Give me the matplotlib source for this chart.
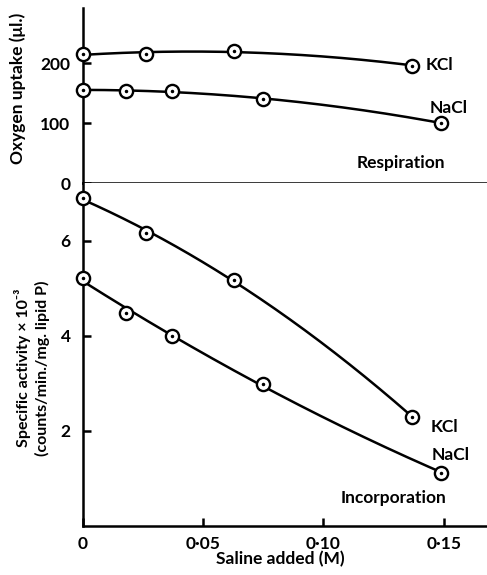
import numpy as np
import matplotlib

matplotlib.use("Agg")

import matplotlib.pyplot as plt

plt.rcParams["font.family"] = ["Lato", "DejaVu Sans"]

# respiration (oxygen uptake, ul.)
resp_kcl_x = [0.0, 0.026, 0.063, 0.137]
resp_kcl_y = [215, 216, 220, 196]
resp_nacl_x = [0.0, 0.018, 0.037, 0.075, 0.149]
resp_nacl_y = [156, 153, 153, 141, 100]

# incorporation (specific activity x 10^-3)
inc_kcl_x = [0.0, 0.026, 0.063, 0.137]
inc_kcl_y = [6.9, 6.17, 5.18, 2.29]
inc_nacl_x = [0.0, 0.018, 0.037, 0.075, 0.149]
inc_nacl_y = [5.22, 4.49, 4.0, 2.99, 1.12]

x_ticks = [0, 0.05, 0.10, 0.15]
x_tick_labels = ["0", "0·05", "0·10", "0·15"]
resp_ticks = [0, 100, 200]
inc_ticks = [2, 4, 6]


def draw_series(ax, xs, ys):
    coef = np.polyfit(xs, ys, 2)
    xx = np.linspace(min(xs), max(xs), 200)
    ax.plot(xx, np.polyval(coef, xx), color="black", lw=1.8, zorder=2)
    ax.plot(xs, ys, "o", ms=9.5, mfc="white", mec="black", mew=1.7, zorder=3,
            clip_on=False)
    ax.plot(xs, ys, ".", ms=3, color="black", zorder=4, clip_on=False)


fig = plt.figure(figsize=(4.87, 5.75), dpi=100)
ax_top = fig.add_axes([0.1704, 0.6817, 0.8296, 0.3043])
ax_bot = fig.add_axes([0.1704, 0.0852, 0.8296, 0.5965])

for ax in (ax_top, ax_bot):
    ax.set_xlim(0, 0.168)
    for side in ("top", "right"):
        ax.spines[side].set_visible(False)
    for side in ("left", "bottom"):
        ax.spines[side].set_linewidth(1.8)
    ax.tick_params(direction="in", length=6, width=1.8, labelsize=12.5)

# top panel
ax_top.set_ylim(0, 292)
ax_top.set_yticks(resp_ticks)
ax_top.set_yticklabels([str(t) for t in resp_ticks], fontweight="bold")
ax_top.tick_params(axis="y", pad=9)
ax_top.set_xticks([])
draw_series(ax_top, resp_kcl_x, resp_kcl_y)
draw_series(ax_top, resp_nacl_x, resp_nacl_y)
ax_top.text(0.1425, 197, "KCl", fontsize=12.5, fontweight="bold", va="center")
ax_top.text(0.144, 125, "NaCl", fontsize=12.5, fontweight="bold", va="center")
ax_top.text(0.132, 33, "Respiration", fontsize=12.5, fontweight="bold",
            ha="center", va="center")

# bottom panel
ax_bot.set_ylim(0, 7.22)
ax_bot.set_yticks(inc_ticks)
ax_bot.set_yticklabels([str(t) for t in inc_ticks], fontweight="bold")
ax_bot.tick_params(axis="y", pad=9)
ax_bot.set_xticks(x_ticks)
ax_bot.set_xticklabels(x_tick_labels, fontweight="bold")
ax_bot.tick_params(axis="x", pad=7)
draw_series(ax_bot, inc_kcl_x, inc_kcl_y)
draw_series(ax_bot, inc_nacl_x, inc_nacl_y)
ax_bot.text(0.1446, 2.08, "KCl", fontsize=12.5, fontweight="bold", va="center")
ax_bot.text(0.145, 1.49, "NaCl", fontsize=12.5, fontweight="bold", va="center")
ax_bot.text(0.129, 0.59, "Incorporation", fontsize=12.5, fontweight="bold",
            ha="center", va="center")

fig.text(18 / 487, 1 - 88 / 575, "Oxygen uptake (μl.)", rotation=90,
         fontsize=12.5, fontweight="bold", ha="center", va="center")
fig.text(32 / 487, 1 - 368 / 575,
         "Specific activity × 10⁻³\n(counts/min./mg. lipid P)",
         rotation=90, fontsize=11.5, fontweight="bold", ha="center",
         va="center", linespacing=1.3)
fig.text(280 / 487, 1 - 559 / 575, "Saline added (M)", fontsize=12.5,
         fontweight="bold", ha="center", va="center")

fig.savefig("out.png", dpi=100)
